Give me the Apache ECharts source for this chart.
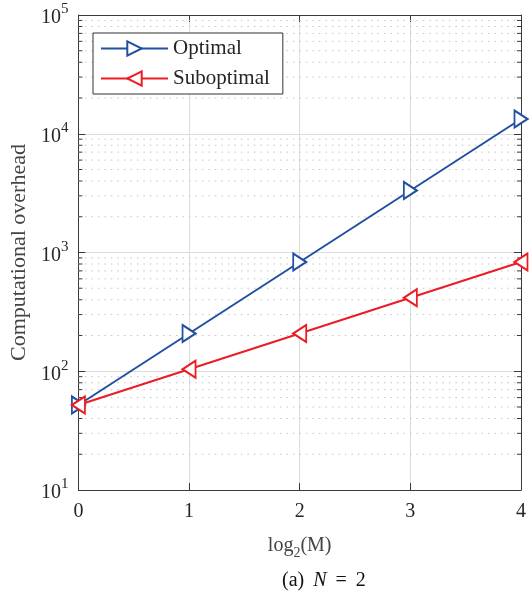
<!DOCTYPE html>
<html><head><meta charset="utf-8">
<script src="https://cdn.jsdelivr.net/npm/echarts@6/dist/echarts.min.js"></script>
<style>html,body{margin:0;padding:0;background:#fff}#c{width:530px;height:597px}</style>
</head><body><div id="c"></div>
<script>
const xValues = [0, 1, 2, 3, 4];
const optimal = [52, 208, 832, 3328, 13312];
const suboptimal = [52, 104, 208, 416, 832];
const seriesNames = ['Optimal', 'Suboptimal'];
const yMin = 10, yMax = 100000;
const xMin = 0, xMax = 4;
const yLabel = 'Computational overhead';

const FONT = 'Liberation Serif';
const TXT = '#262626';
const AX = '#3a3a3a';
const BLUE = '#2150a0';
const RED = '#ec1c24';

const minorVals = [];
for (let e = 1; e < 5; e++) for (let m = 2; m <= 9; m++) minorVals.push(m * Math.pow(10, e));

const chart = echarts.init(document.getElementById('c'), null, {renderer: 'canvas'});
const grid = {left: 75, right: 9, top: 15, bottom: 107};

const yLabelFmt = v => {
  const e = Math.round(Math.log10(v));
  return '{b|10}{s|' + e + '}';
};

chart.setOption({
  animation: false,
  backgroundColor: '#fff',
  grid: grid,
  legend: {
    data: seriesNames,
    left: 93, top: 33,
    orient: 'vertical',
    padding: [5, 13, 5, 7],
    itemWidth: 67, itemHeight: 18, itemGap: 9,
    borderColor: '#333', borderWidth: 1, borderRadius: 0,
    backgroundColor: '#fff',
    textStyle: {fontFamily: FONT, fontSize: 21, color: TXT}
  },
  xAxis: [{
    type: 'value', min: xMin, max: xMax, interval: 1,
    name: '{a|log}{s|2}{a|(M)}', nameLocation: 'middle', nameGap: 42,
    nameTextStyle: {rich: {
      a: {fontFamily: FONT, fontSize: 20, color: '#444', lineHeight: 28},
      s: {fontFamily: FONT, fontSize: 14, color: '#444', lineHeight: 14, verticalAlign: 'bottom'}
    }},
    axisLine: {show: true, lineStyle: {color: AX, width: 1}},
    axisTick: {show: true, inside: true, length: 7, lineStyle: {color: AX}},
    axisLabel: {fontFamily: FONT, fontSize: 20, color: TXT, margin: 12},
    splitLine: {show: true, lineStyle: {color: '#dcdcdc', width: 1}}
  }, {
    type: 'value', position: 'top', min: xMin, max: xMax, interval: 1,
    axisLine: {show: true, onZero: false, lineStyle: {color: AX, width: 1}},
    axisTick: {show: true, inside: true, length: 7, lineStyle: {color: AX}},
    axisLabel: {show: false}, splitLine: {show: false}
  }],
  yAxis: [{
    type: 'log', logBase: 10, min: yMin, max: yMax,
    name: yLabel, nameLocation: 'middle', nameGap: 45,
    nameTextStyle: {fontFamily: FONT, fontSize: 22, color: '#444'},
    axisLine: {show: true, lineStyle: {color: AX, width: 1}},
    axisTick: {show: true, inside: true, length: 7, lineStyle: {color: AX}},
    axisLabel: {formatter: yLabelFmt, margin: 10, rich: {
      b: {fontFamily: FONT, fontSize: 20, color: TXT, lineHeight: 26, verticalAlign: 'bottom'},
      s: {fontFamily: FONT, fontSize: 15, color: TXT, lineHeight: 15, verticalAlign: 'top'}
    }},
    splitLine: {show: true, lineStyle: {color: '#dcdcdc', width: 1}}
  }, {
    type: 'log', logBase: 10, min: yMin, max: yMax, position: 'right',
    axisLine: {show: true, onZero: false, lineStyle: {color: AX, width: 1}},
    axisTick: {show: true, inside: true, length: 7, lineStyle: {color: AX}},
    axisLabel: {show: false}, splitLine: {show: false}
  }],
  graphic: [{
    type: 'text', left: 282, top: 571,
    style: {
      text: '{r|(a)}{g| }{i|N}{g| }{r|=}{g| }{r|2}',
      rich: {
        r: {fontFamily: FONT, fontSize: 20, fill: '#111'},
        g: {fontFamily: FONT, fontSize: 20, fill: '#111', width: 9},
        i: {fontFamily: FONT, fontSize: 20, fontStyle: 'italic', fill: '#111'}
      }
    }
  }],
  series: [{
    type: 'custom', silent: true, z: 1,
    data: [[0, yMin]],
    renderItem: (params, api) => {
      const children = [];
      const x0 = api.coord([xMin, yMin])[0];
      const x1 = api.coord([xMax, yMin])[0];
      minorVals.forEach(v => {
        const y = api.coord([xMin, v])[1];
        children.push({type: 'line', shape: {x1: x0, y1: y, x2: x1, y2: y},
          style: {stroke: '#c4c4c4', lineWidth: 1, lineDash: [1.5, 5]}});
        children.push({type: 'line', shape: {x1: x0, y1: y, x2: x0 + 4, y2: y},
          style: {stroke: AX, lineWidth: 1}});
        children.push({type: 'line', shape: {x1: x1, y1: y, x2: x1 - 4, y2: y},
          style: {stroke: AX, lineWidth: 1}});
      });
      return {type: 'group', children: children};
    }
  }, {
    name: seriesNames[0], type: 'line', z: 5,
    data: xValues.map((x, i) => [x, optimal[i]]),
    symbol: 'path://M0,0L10,5L0,10Z', symbolSize: [13, 17], symbolKeepAspect: false,
    lineStyle: {color: BLUE, width: 2},
    itemStyle: {color: '#fff', borderColor: BLUE, borderWidth: 2}
  }, {
    name: seriesNames[1], type: 'line', z: 5,
    data: xValues.map((x, i) => [x, suboptimal[i]]),
    symbol: 'path://M10,0L0,5L10,10Z', symbolSize: [13, 17], symbolKeepAspect: false,
    lineStyle: {color: RED, width: 2},
    itemStyle: {color: '#fff', borderColor: RED, borderWidth: 2}
  }]
});
</script></body></html>
